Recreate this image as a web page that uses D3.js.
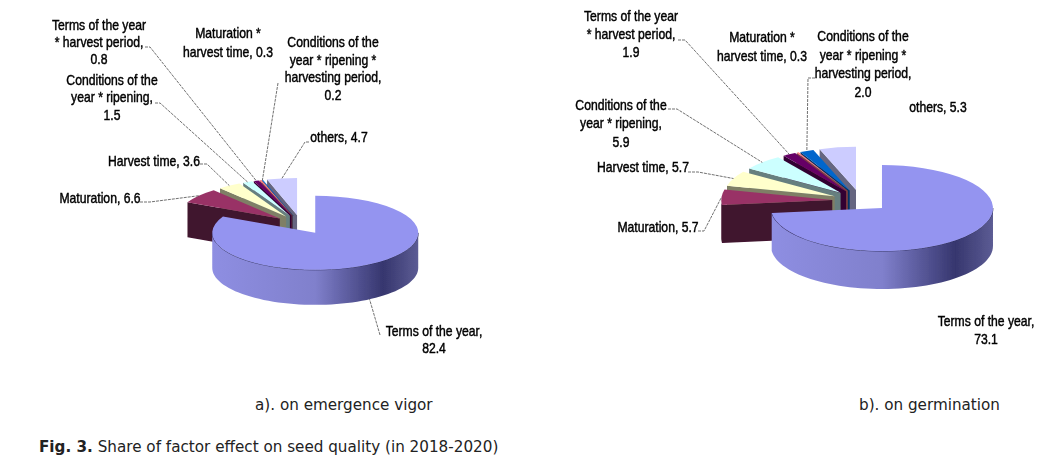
<!DOCTYPE html>
<html>
<head>
<meta charset="utf-8">
<script src="https://cdn.jsdelivr.net/npm/d3@7"></script>
<style>
html, body { margin: 0; padding: 0; background: #fff; }
svg { display: block; }
.lab { font-family: "Liberation Sans", sans-serif; font-size: 14.5px; fill: #000; stroke: #000; stroke-width: 0.45; text-anchor: middle; }
.cap { font-family: "DejaVu Sans", sans-serif; font-size: 15.2px; fill: #222; }
.leader { fill: none; stroke: #333; stroke-width: 0.7; stroke-dasharray: 3 1; }
</style>
</head>
<body>
<svg class="fig" width="1050" height="464"></svg>
<script>
var factors = ["Terms of the year", "Maturation", "Harvest time", "Conditions of the year * ripening",
    "Terms of the year * harvest period", "Maturation * harvest time",
    "Conditions of the year * ripening * harvesting period", "others"];
var vigorValues = [82.4, 6.6, 3.6, 1.5, 0.8, 0.3, 0.2, 4.7];
var germinationValues = [73.1, 5.7, 5.7, 5.9, 1.9, 0.3, 2.0, 5.3];
var colors = ["#9494f0", "#993366", "#ffffcc", "#ccffff", "#660066", "#ff8080", "#0066cc", "#ccccff"];
var sideColors = ["#4a4a80", "#40122e", "#7f7f66", "#667f7f", "#330033", "#804040", "#003366", "#666680"];

var vigorLabels = [
    ["Terms of the year,", "82.4"], ["Maturation, 6.6"], ["Harvest time, 3.6"],
    ["Conditions of the", "year * ripening,", "1.5"], ["Terms of the year", "* harvest period,", "0.8"],
    ["Maturation *", "harvest time, 0.3"],
    ["Conditions of the", "year * ripening *", "harvesting period,", "0.2"], ["others, 4.7"]
];
var germinationLabels = [
    ["Terms of the year,", "73.1"], ["Maturation, 5.7"], ["Harvest time, 5.7"],
    ["Conditions of the", "year * ripening,", "5.9"], ["Terms of the year", "* harvest period,", "1.9"],
    ["Maturation *", "harvest time, 0.3"],
    ["Conditions of the", "year * ripening *", "harvesting period,", "2.0"], ["others, 5.3"]
];

// label layout: x, first baseline, line height, leader start points
var vigorLayout = {
    cx: 301, cy: 224.6, rx: 103, ry: 37, depth: 35, explode: 27,
    labels: [
        {x: 434, y: 336, lh: 17, leader: [[380, 335]]},
        {x: 100, y: 203, lh: 17, leader: [[140, 202], [150, 202]]},
        {x: 154, y: 166, lh: 17, leader: [[200, 164], [207, 164]]},
        {x: 112, y: 85, lh: 17.5, leader: [[155, 103], [160, 103]]},
        {x: 99, y: 30, lh: 17, leader: [[145, 47], [150, 47]]},
        {x: 228, y: 38, lh: 19},
        {x: 333, y: 47, lh: 17.7, leader: [[278, 83]]},
        {x: 339, y: 142, lh: 17, leader: [[309, 142], [305, 142]]}
    ]
};
var germinationLayout = {
    cx: 860.7, cy: 200.7, rx: 111, ry: 43, depth: 38, explode: 28.5,
    labels: [
        {x: 986, y: 326, lh: 18},
        {x: 658, y: 232, lh: 18, leader: [[698, 231], [704, 231]]},
        {x: 643, y: 172, lh: 18, leader: [[688, 172], [698, 172]]},
        {x: 621, y: 110, lh: 18.5, leader: [[668, 109], [677, 109]]},
        {x: 631, y: 21, lh: 18, leader: [[678, 40], [685, 40]]},
        {x: 762, y: 42, lh: 19},
        {x: 863, y: 41, lh: 18.7, leader: [[815, 78], [808, 78]]},
        {x: 938, y: 112, lh: 18}
    ]
};
var narrow = 0.84;

var svg = d3.select(".fig");
var defs = svg.append("defs");
defs.append("filter").attr("id", "soft").append("feGaussianBlur").attr("stdDeviation", 0.35);

var wallGrad = defs.append("linearGradient").attr("id", "wall");
wallGrad.selectAll("stop")
    .data([[0, "#8e8ee2"], [0.5, "#8080cc"], [0.83, "#36366e"], [1, "#5c5c94"]])
    .enter().append("stop")
    .attr("offset", function (d) { return d[0]; })
    .attr("stop-color", function (d) { return d[1]; });

var pie = d3.pie().sort(null).startAngle(0).endAngle(2 * Math.PI);

function drawPie(values, labels, lay) {
    var g = svg.append("g").attr("filter", "url(#soft)");
    var slices = pie(values);
    var arc = d3.arc().innerRadius(0).outerRadius(lay.rx);
    var line = d3.line();

    function centre(s) {
        var m = (s.startAngle + s.endAngle) / 2;
        return [lay.cx + lay.explode * Math.sin(m),
                lay.cy - lay.explode * Math.cos(m) * lay.ry / lay.rx];
    }
    function rim(c, a) {
        return [c[0] + lay.rx * Math.sin(a), c[1] - lay.ry * Math.cos(a)];
    }
    function down(p) { return [p[0], p[1] + lay.depth]; }

    // back slices first, biggest one on top
    var order = d3.range(1, slices.length).reverse().concat([0]);
    order.forEach(function (i) {
        var s = slices[i], c = centre(s);

        // cut face on the start edge
        if (Math.sin(s.startAngle) < 0) {
            var e = rim(c, s.startAngle);
            g.append("path")
                .attr("d", line([c, e, down(e), down(c)]) + "Z")
                .attr("fill", sideColors[i]);
        }
        // outer wall, only the front half shows
        var a0 = Math.max(s.startAngle, Math.PI / 2), a1 = Math.min(s.endAngle, 3 * Math.PI / 2);
        if (a1 > a0) {
            var top = d3.range(0, 61).map(function (k) { return rim(c, a0 + (a1 - a0) * k / 60); });
            g.append("path")
                .attr("d", line(top.concat(top.map(down).reverse())) + "Z")
                .attr("fill", i === 0 ? "url(#wall)" : sideColors[i]);
            if (i === 0) {
                g.append("path").attr("d", line(top))
                    .attr("fill", "none").attr("stroke", "#2a2a55").attr("stroke-width", 0.8);
            }
        }
        g.append("path")
            .attr("transform", "translate(" + c + ") scale(1," + lay.ry / lay.rx + ")")
            .attr("d", arc(s))
            .attr("fill", colors[i]);
    });

    // labels and leader lines
    labels.forEach(function (lines, i) {
        var l = lay.labels[i], s = slices[i], c = centre(s);
        if (l.leader) {
            var m = (s.startAngle + s.endAngle) / 2, end = rim(c, m);
            if (Math.cos(m) < 0) end = down(end);
            g.append("path").attr("class", "leader").attr("d", line(l.leader.concat([end])));
        }
        var t = g.append("text").attr("class", "lab")
            .attr("transform", "translate(" + l.x + "," + l.y + ") scale(" + narrow + ",1)");
        lines.forEach(function (txt, k) {
            t.append("tspan").attr("x", 0).attr("y", k * l.lh).text(txt);
        });
    });
}

drawPie(vigorValues, vigorLabels, vigorLayout);
drawPie(germinationValues, germinationLabels, germinationLayout);

svg.append("text").attr("class", "cap").attr("x", 255).attr("y", 410).text("a). on emergence vigor");
svg.append("text").attr("class", "cap").attr("x", 859).attr("y", 410).text("b). on germination");
var fig = svg.append("text").attr("class", "cap").attr("x", 39).attr("y", 452);
fig.append("tspan").attr("font-weight", "bold").text("Fig. 3.");
fig.append("tspan").text(" Share of factor effect on seed quality (in 2018-2020)");
</script>
</body>
</html>
